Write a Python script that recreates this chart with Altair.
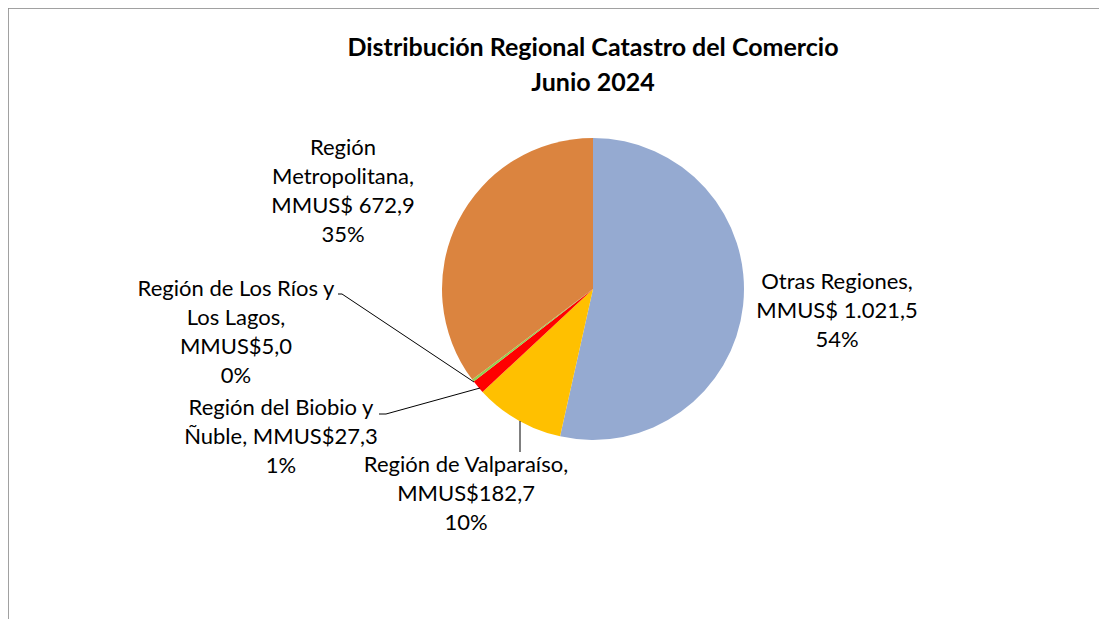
import altair as alt
import pandas as pd

# ---- data ----
regions = ["Otras Regiones", "Región de Valparaíso", "Región del Biobio y Ñuble",
           "Región de Los Ríos y Los Lagos", "Región Metropolitana"]
values = [1021.5, 182.7, 27.3, 5.0, 672.9]
value_labels = ["MMUS$ 1.021,5", "MMUS$182,7", "MMUS$27,3", "MMUS$5,0", "MMUS$ 672,9"]
pct_labels = ["54%", "10%", "1%", "0%", "35%"]
colors = ["#95AAD1", "#FFC000", "#FF0000", "#92D050", "#DB843F"]

title_lines = ["Distribución Regional Catastro del Comercio", "Junio 2024"]

label_lines = [
    ["Otras Regiones,", "MMUS$ 1.021,5", "54%"],
    ["Región de Valparaíso,", "MMUS$182,7", "10%"],
    ["Región del Biobio y", "Ñuble, MMUS$27,3", "1%"],
    ["Región de Los Ríos y", "Los Lagos,", "MMUS$5,0", "0%"],
    ["Región", "Metropolitana,", "MMUS$ 672,9", "35%"],
]

# ---- layout (page pixel coords, shifted by 8px page margin) ----
M = 8
W, H = 1107 - 2 * M, 627 - 2 * M
CX, CY, R = 593 - M, 289 - M, 151
FONT = "Lato"
FS = 22
TFS = 25
LH = 29
label_pos = [(837, 282), (466, 465), (281, 408), (236, 289), (343, 148)]
leaders = [  # (x1, y1, x2, y2) page coords
    (338, 294, 342, 294), (342, 294, 474, 382),
    (379, 414, 386, 414), (386, 414, 480, 388),
    (520, 421, 520, 452),
]
frame = [  # visible chart-area frame edges (page coords)
    (M, M, 1107, M), (M, M, M, 627),
]

pie_df = pd.DataFrame({"region": regions, "value": values, "ord": list(range(len(regions)))})

pie = alt.Chart(pie_df).mark_arc(radius=R).encode(
    theta=alt.Theta("value:Q", stack=True),
    order=alt.Order("ord:Q"),
    color=alt.Color("region:N", scale=alt.Scale(domain=regions, range=colors), legend=None),
    x=alt.value(CX),
    y=alt.value(CY),
)

lab_rows = []
for lines, (lx, ly) in zip(label_lines, label_pos):
    for i, t in enumerate(lines):
        lab_rows.append({"t": t, "px": lx - M, "py": ly - M + i * LH})
lab_df = pd.DataFrame(lab_rows)

labels = alt.Chart(lab_df).mark_text(
    font=FONT, fontSize=FS, color="#000000", align="center", baseline="middle"
).encode(
    x=alt.X("px:Q", scale=None), y=alt.Y("py:Q", scale=None), text="t:N"
)

title_df = pd.DataFrame({"t": title_lines, "px": [593 - M] * 2, "py": [48 - M, 83 - M]})
title = alt.Chart(title_df).mark_text(
    font=FONT, fontSize=TFS, fontWeight="bold", color="#000000", align="center", baseline="middle"
).encode(
    x=alt.X("px:Q", scale=None), y=alt.Y("py:Q", scale=None), text="t:N"
)

lead_df = pd.DataFrame([{"x1": a - M, "y1": b - M, "x2": c - M, "y2": d - M} for a, b, c, d in leaders])
lead = alt.Chart(lead_df).mark_rule(color="#000000", strokeWidth=1).encode(
    x=alt.X("x1:Q", scale=None), y=alt.Y("y1:Q", scale=None),
    x2="x2:Q", y2="y2:Q",
)

frame_df = pd.DataFrame([{"x1": a - M, "y1": b - M, "x2": c - M, "y2": d - M} for a, b, c, d in frame])
frame_l = alt.Chart(frame_df).mark_rule(color="#8C8C8C", strokeWidth=1.5).encode(
    x=alt.X("x1:Q", scale=None), y=alt.Y("y1:Q", scale=None),
    x2="x2:Q", y2="y2:Q",
)

chart = alt.layer(frame_l, pie, lead, labels, title).properties(
    width=W, height=H, autosize=alt.AutoSizeParams(type="none"), padding=0
).configure_view(stroke=None).configure(background="#FFFFFF")

chart.save("out.html", embed_options={"renderer": "svg", "actions": False})
